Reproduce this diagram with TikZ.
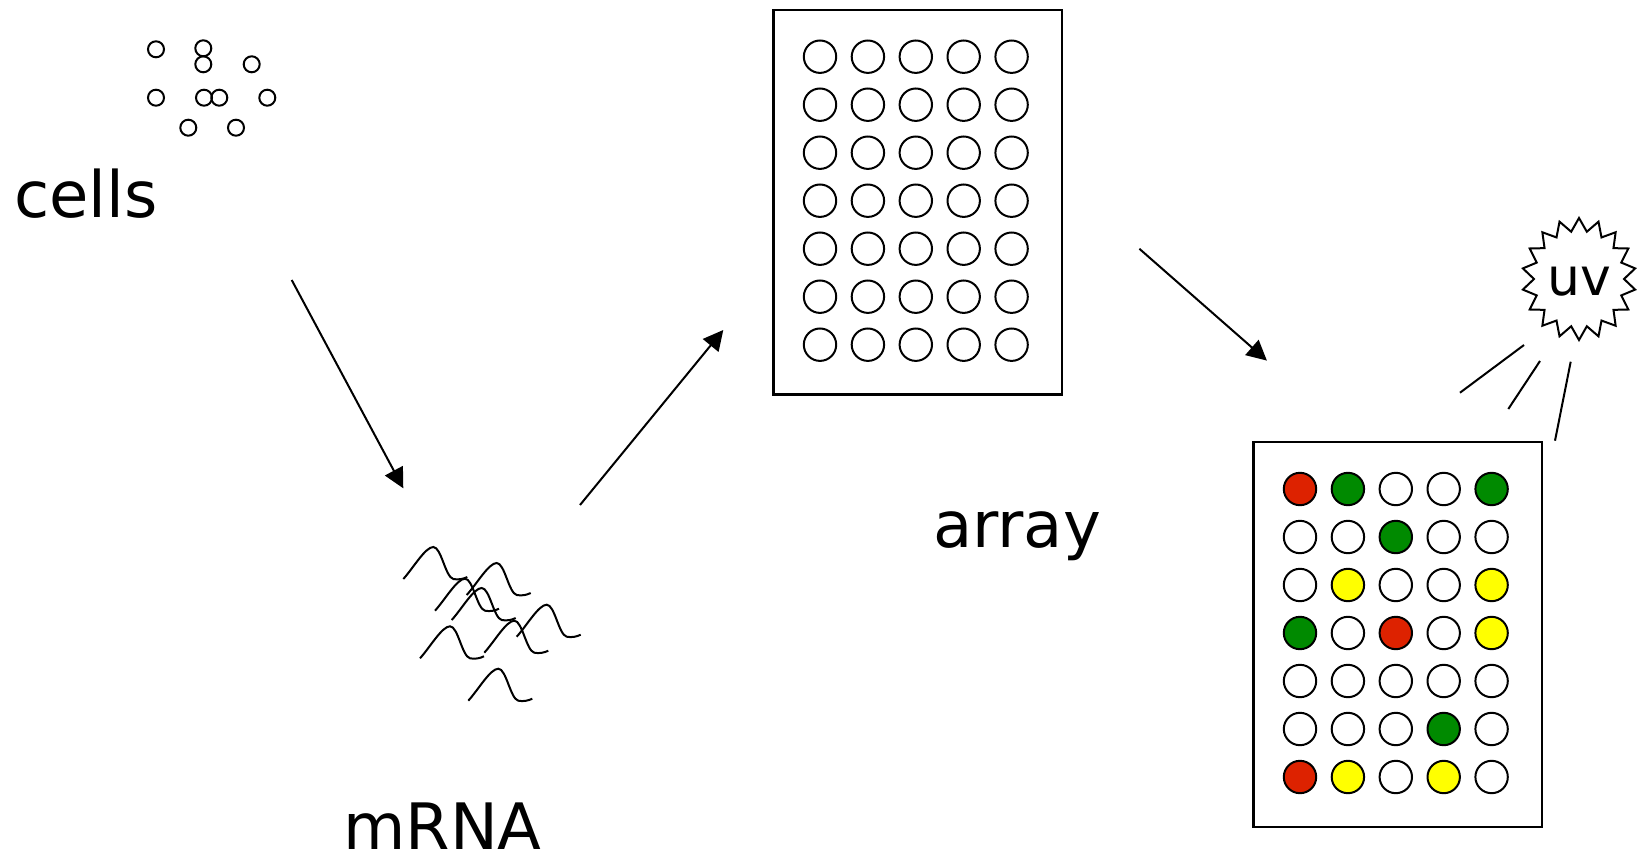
\documentclass[tikz,border=0pt]{standalone}
\usepackage{fontspec}
\setmainfont{DejaVu Sans}
\usetikzlibrary{arrows.meta}
\definecolor{spotR}{HTML}{DD2200}
\definecolor{spotG}{HTML}{008A00}
\definecolor{spotY}{HTML}{FFFF00}
\definecolor{spotW}{HTML}{FFFFFF}
\begin{document}
\begin{tikzpicture}[x=1pt,y=-1pt,
  pen/.style={line width=2pt, draw=black},
  caption/.style={font=\fontsize{64}{64}\selectfont, inner sep=0pt, anchor=base west},
  cell/.style={pen, circle, minimum size=16pt, inner sep=0pt},
  spot/.style={pen, circle, minimum size=32.4pt, inner sep=0pt},
  slide/.style={pen, line width=2.2pt},
  flow/.style={line width=2pt, -{Triangle[length=20pt,width=20pt]}},
  ray/.style={line width=2pt},
  wave/.pic={\draw[line width=2pt] (0,0) .. controls (10,-11) and (22,-32) .. (30,-32)
      .. controls (38,-32) and (42,-2) .. (50,0) .. controls (55,1) and (60,0) .. (64,-2);}
]
\useasboundingbox (0,0) rectangle (1639,856);

% cells
\node[cell] (c1) at (156,49.3) {};
\node[cell] (c2) at (203.3,48.3) {};
\node[cell] (c3) at (203.3,64.3) {};
\node[cell] (c4) at (251.7,64.3) {};
\node[cell] (c5) at (156,97.7) {};
\node[cell] (c6) at (204,97.7) {};
\node[cell] (c7) at (219.3,97.7) {};
\node[cell] (c8) at (267.3,97.7) {};
\node[cell] (c9) at (188.3,127.7) {};
\node[cell] (c10) at (236,127.7) {};
\node[caption] (cells) at (14,217) {cells};

% mRNA strands
\pic at (403.3,579) {wave};
\pic at (466.7,595) {wave};
\pic at (435,610.7) {wave};
\pic at (451.7,620) {wave};
\pic at (516.7,636.7) {wave};
\pic at (484.3,652.7) {wave};
\pic at (420,658.3) {wave};
\pic at (468.3,700.7) {wave};
\node[caption] (mrna) at (343,849) {mRNA};

% blank array
\node[slide, minimum width=288.4pt, minimum height=384pt, anchor=north west] (blank) at (772.3,9.3) {};
\foreach \r in {1,...,7}
  \foreach \c in {1,...,5}
    \node[spot] (b-\r-\c) at ({820+47.9*(\c-1)},{56.7+48*(\r-1)}) {};
\node[caption] (array) at (933,547) {array};

% hybridised array
\node[slide, minimum width=288.4pt, minimum height=384.7pt, anchor=north west] (lit) at (1252.3,441) {};
\foreach \row [count=\r] in {{R,G,W,W,G},{W,W,G,W,W},{W,Y,W,W,Y},{G,W,R,W,Y},{W,W,W,W,W},{W,W,W,G,W},{R,Y,W,Y,W}}
  \foreach \col [count=\c] in \row
    \node[spot, fill=spot\col] (h-\r-\c) at ({1300+47.9*(\c-1)},{489+48*(\r-1)}) {};

% uv lamp
\draw[line width=2pt, fill=white]
  plot[samples at={0,...,35}, variable=\k]
  ({1579+ifthenelse(mod(\k,2)==0,57,45)*sin(\k*10)},{279-ifthenelse(mod(\k,2)==0,61,48)*cos(\k*10)}) -- cycle;
\node[font=\fontsize{52}{52}\selectfont, inner sep=0pt] (uv) at (1579,281) {uv};
\coordinate (r1a) at (1460,392.7);  \coordinate (r1b) at (1524,345);
\coordinate (r2a) at (1508.3,409);  \coordinate (r2b) at (1540,361);
\coordinate (r3a) at (1555,440.7);  \coordinate (r3b) at (1570.7,361.7);
\draw[ray] (r1a) -- (r1b);
\draw[ray] (r2a) -- (r2b);
\draw[ray] (r3a) -- (r3b);

% process arrows
\coordinate (a1s) at (291.7,280);   \coordinate (a1e) at (403.3,488.3);
\coordinate (a2s) at (580,505);     \coordinate (a2e) at (723.3,330);
\coordinate (a3s) at (1139.4,248.8);\coordinate (a3e) at (1266.9,360.6);
\draw[flow] (a1s) -- (a1e);
\draw[flow] (a2s) -- (a2e);
\draw[flow] (a3s) -- (a3e);
\end{tikzpicture}
\end{document}
